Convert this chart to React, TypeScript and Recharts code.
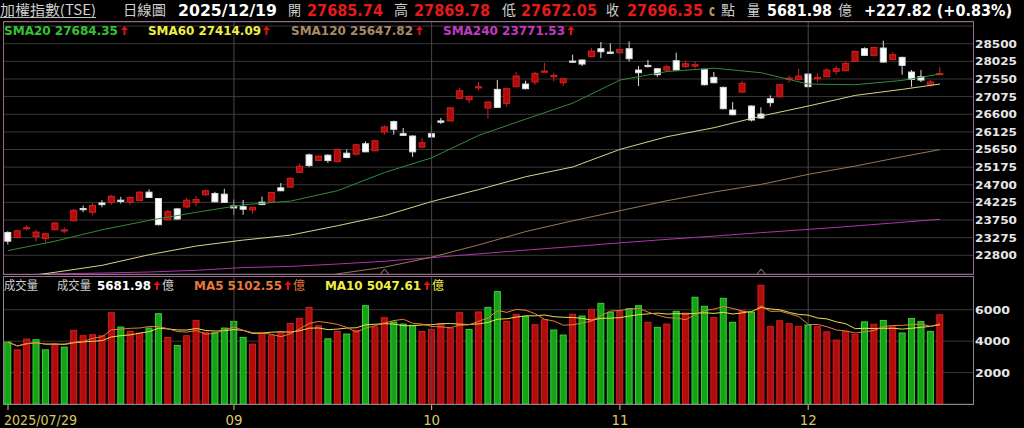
import React from 'react';
import { ComposedChart, Bar, Line, XAxis, YAxis, CartesianGrid, ReferenceLine } from 'recharts';

// ---------- categories (trading days) ----------
const julDays = [29, 30, 31];
const augDays = [1, 4, 5, 6, 7, 8, 11, 12, 13, 14, 15, 18, 19, 20, 21, 22, 25, 26, 27, 28, 29];
const sepDays = [1, 2, 3, 4, 5, 8, 9, 10, 11, 12, 15, 16, 17, 18, 19, 22, 23, 24, 25, 26, 30];
const octDays = [1, 2, 3, 7, 8, 9, 13, 14, 15, 16, 17, 20, 21, 22, 23, 27, 28, 29, 30, 31];
const novDays = [3, 4, 5, 6, 7, 10, 11, 12, 13, 14, 17, 18, 19, 20, 21, 24, 25, 26, 27, 28];
const decDays = [1, 2, 3, 4, 5, 8, 9, 10, 11, 12, 15, 16, 17, 18, 19];
const monthTable: [string, number[]][] = [
  ['07', julDays], ['08', augDays], ['09', sepDays], ['10', octDays], ['11', novDays], ['12', decDays],
];
const labelledMonths = ['09', '10', '11', '12'];

// ---------- OHLC ----------
const opens = [23415, 23280, 23530, 23307, 23250, 23490, 23475, 23730, 24060, 23960,
  24210, 24230, 24285, 24230, 24275, 24500, 24330, 23760, 24050, 24103,
  24230, 24430, 24465, 24447, 24130, 24110, 24022, 24230, 24230, 24619,
  24637, 25035, 25506, 25352, 25497, 25325, 25551, 25524, 25805, 25615,
  26121, 26402, 26076, 26013, 25714, 26076, 26420, 26420, 27026, 26990,
  27315, 26767, 27270, 26893, 27342, 27413, 27467, 27746, 27611, 27449,
  28033, 28060, 28150, 28365, 28275, 28257, 28365, 27791, 27916, 27826,
  27791, 28042, 27880, 27898, 27809, 27593, 27324, 26713, 27198, 26821,
  26605, 27018, 27072, 27539, 27539, 27683, 27557, 27611, 27755, 27773,
  28024, 28365, 28186, 28383, 28078, 28132, 27737, 27611, 27390, 27685.74];
const highs = [23450, 23490, 23615, 23490, 23400, 23690, 23550, 24050, 24140, 24210,
  24285, 24430, 24375, 24393, 24530, 24575, 24340, 24030, 24075, 24348,
  24393, 24565, 24510, 24590, 24302, 24290, 24112, 24384, 24510, 24746,
  24909, 25270, 25542, 25488, 25524, 25669, 25651, 25795, 25868, 25904,
  26302, 26429, 26230, 26031, 25958, 26320, 26501, 26791, 27316, 27099,
  27467, 26946, 27521, 27306, 27737, 27503, 27737, 27988, 27719, 27575,
  28204, 28078, 28392, 28545, 28509, 28365, 28563, 27898, 28060, 27844,
  27934, 28258, 28042, 28024, 27826, 27737, 27342, 26928, 27503, 26839,
  26785, 27108, 27413, 27647, 27826, 27701, 27701, 27844, 27898, 28024,
  28311, 28401, 28419, 28581, 28275, 28150, 27791, 27791, 27520, 27869.78];
const lows = [23090, 23260, 23470, 23170, 23145, 23470, 23400, 23715, 23960, 23877,
  24095, 24165, 24195, 24157, 24265, 24340, 23605, 23740, 23760, 24076,
  24121, 24411, 24230, 24220, 23895, 23890, 23913, 24148, 24221, 24529,
  24628, 25017, 25180, 25343, 25289, 25307, 25416, 25488, 25578, 25606,
  26049, 26049, 26013, 25452, 25696, 25977, 26338, 26411, 27008, 26900,
  27252, 26480, 26767, 26803, 27324, 27270, 27395, 27737, 27485, 27360,
  27988, 27898, 28141, 28114, 28221, 28239, 28024, 27360, 27862, 27611,
  27737, 27773, 27844, 27826, 27377, 27431, 26731, 26569, 27162, 26408,
  26480, 26803, 27054, 27449, 27503, 27324, 27467, 27593, 27665, 27755,
  28006, 28168, 28168, 27988, 28060, 27665, 27342, 27467, 27350, 27672.05];
const closes = [23180, 23460, 23545, 23425, 23380, 23670, 23485, 24010, 24030, 24140,
  24165, 24390, 24250, 24357, 24500, 24357, 23625, 23977, 23777, 24285,
  24302, 24538, 24240, 24225, 24075, 24040, 24094, 24167, 24492, 24538,
  24872, 25198, 25216, 25470, 25352, 25651, 25434, 25777, 25587, 25886,
  26257, 26194, 26031, 25587, 25832, 25986, 26384, 26773, 27234, 27081,
  27342, 26929, 26785, 27288, 27629, 27288, 27701, 27764, 27647, 27557,
  28006, 27952, 28302, 28284, 28239, 28347, 28096, 27719, 27889, 27665,
  27880, 27791, 27961, 27934, 27395, 27449, 26749, 26587, 27432, 26444,
  26498, 26911, 27395, 27575, 27629, 27342, 27593, 27791, 27826, 27970,
  28293, 28186, 28401, 28006, 28204, 27916, 27539, 27521, 27468.53, 27696.35];

// ---------- volume (億) ----------
const volumes = [3940, 3450, 4130, 4090, 3450, 3830, 3620, 4690, 4350, 4410,
  4350, 5815, 4900, 4620, 4515, 4835, 5750, 4240, 3730, 4350,
  5325, 4560, 4540, 4835, 5260, 4240, 3810, 4490, 4350, 4560,
  5130, 5450, 6155, 4985, 4150, 4620, 4450, 4690, 6260, 4900,
  5495, 5220, 5090, 5005, 4620, 4750, 5090, 4815, 5815, 4750,
  5860, 6155, 7155, 5260, 5710, 5560, 5050, 5370, 4710, 4390,
  5710, 5600, 6030, 6410, 5840, 5880, 6070, 6260, 5200, 4880,
  5090, 5900, 5790, 6795, 6220, 5495, 6730, 5200, 5920, 5840,
  7560, 4940, 5300, 5110, 4940, 5030, 4920, 4600, 4070, 4620,
  4420, 5230, 5080, 5320, 4914, 4520, 5440, 5250, 4620, 5681.98];

const smaSampleIdx = [0, 5, 10, 15, 20, 25, 30, 35, 40, 45, 50, 55, 60, 65, 70, 75, 80, 85, 90, 95, 99];
const sma20 = [22927, 23180, 23488, 23741, 23958, 24160, 24260, 24540, 25030, 25425, 26030,
  26470, 26900, 27521, 27750, 27840, 27719, 27413, 27395, 27512, 27684.35];
const sma60 = [22170, 22342, 22530, 22816, 23050, 23210, 23343, 23596, 23868, 24248, 24570,
  24917, 25180, 25653, 25995, 26237, 26551, 26821, 27108, 27270, 27414.09];
const sma120 = [null, null, null, null, null, null, 22050, 22300, 22480, 22750, 23080,
  23440, 23730, 24000, 24270, 24504, 24710, 24980, 25204, 25456, 25647.82];
const sma240 = [22265, 22300, 22322, 22350, 22395, 22470, 22500, 22565, 22640, 22737, 22840,
  22940, 23035, 23135, 23229, 23318, 23410, 23498, 23590, 23690, 23771.53];
const markerIdx = [40, 80];
const markerLevel = 22350;

// ---------- axis ticks ----------
const priceTicks = [22800, 23275, 23750, 24225, 24700, 25175, 25650, 26125, 26600, 27075, 27550, 28025, 28500, 28975];
const priceLabelMax = 28500;
const priceDomain = [22296, 29085];
const volTicks = [2000, 4000, 6000];
const volDomain = [0, 8150];

// ---------- header / legend text ----------
const titleText = '加權指數(TSE)';
const periodText = '日線圖';
const dateText = '2025/12/19';
const openText = '27685.74';
const highText = '27869.78';
const lowText = '27672.05';
const closeText = '27696.35';
const volText = '5681.98';
const changeText = '+227.82 (+0.83%)';
const smaLegend = [
  { name: 'SMA20', value: '27684.35' },
  { name: 'SMA60', value: '27414.09' },
  { name: 'SMA120', value: '25647.82' },
  { name: 'SMA240', value: '23771.53' },
];
const ma5Text = '5102.55';
const ma10Text = '5047.61';

// ---------- build table ----------
const categories: string[] = [];
monthTable.forEach(([m, days]) => days.forEach((d) => categories.push(`2025/${m}/${String(d).padStart(2, '0')}`)));
const monthStarts = labelledMonths.map((m) => categories.find((c) => c.slice(5, 7) === m) as string);
const xTicks = [categories[0], ...monthStarts];

const sampleAt = (arr: (number | null)[], i: number) => {
  const k = smaSampleIdx.indexOf(i);
  return k >= 0 ? arr[k] : null;
};
const avgWindow = (i: number, n: number) => {
  const s = volumes.slice(Math.max(0, i - n + 1), i + 1);
  return s.reduce((a, b) => a + b, 0) / s.length;
};

const rows = categories.map((date, i) => ({
  date,
  open: opens[i],
  high: highs[i],
  low: lows[i],
  close: closes[i],
  range: [lows[i], highs[i]],
  vol: volumes[i],
  volUp: i > 0 && closes[i] >= closes[i - 1],
  sma20: sampleAt(sma20, i),
  sma60: sampleAt(sma60, i),
  sma120: sampleAt(sma120, i),
  sma240: sampleAt(sma240, i),
  mark: markerIdx.includes(i) ? markerLevel : null,
  ma5: avgWindow(i, 5),
  ma10: avgWindow(i, 10),
}));

// ---------- styles ----------
const NUM_FONT = "'DejaVu Sans', Verdana, sans-serif";
const CJK_FONT = "'Noto Sans CJK TC', 'Noto Sans CJK SC', sans-serif";
const RED = '#e31b1b';
const GRAY = '#cfcfcf';

const Candle = (props: any) => {
  const { x, y, width, height, payload } = props;
  if (x == null || y == null) return <g />;
  const { open, close, high, low } = payload;
  const k = height / (high - low);
  const py = (v: number) => y + (high - v) * k;
  const up = close >= open;
  const cx = x + width / 2;
  const top = py(Math.max(open, close));
  const bot = py(Math.min(open, close));
  const bodyH = Math.max(bot - top, 1.2);
  const fill = up ? '#b20b0b' : '#ffffff';
  const edge = up ? '#d42020' : '#dcdcdc';
  return (
    <g>
      <line x1={cx} x2={cx} y1={y} y2={y + height} stroke={edge} strokeWidth={1} />
      <rect x={x + 0.5} y={top} width={width - 1} height={bodyH} fill={fill} stroke={edge} strokeWidth={1} />
    </g>
  );
};

const VolBar = (props: any) => {
  const { x, y, width, height, payload } = props;
  if (x == null || y == null) return <g />;
  const up = payload.volUp;
  return (
    <rect x={x + 0.5} y={y} width={width - 1} height={height}
      fill={up ? '#b00c0c' : '#14a314'} stroke={up ? '#d41e1e' : '#3dcf3d'} strokeWidth={1} />
  );
};

const Marker = (props: any) => {
  const { cx, cy, value } = props;
  if (value == null || cx == null || cy == null) return <g key={`m${props.index}`} />;
  return (
    <path key={`m${props.index}`} d={`M${cx - 4},${cy + 2} L${cx},${cy - 3} L${cx + 4},${cy + 2}`}
      fill="none" stroke="#a08a6a" strokeWidth={1} />
  );
};

const PriceTick = (props: any) => {
  const { x, y, payload } = props;
  if (payload.value > priceLabelMax) return <g />;
  return (
    <text x={x} y={y} dy="0.36em" textAnchor="start" fill="#e6e6e6" fontFamily={NUM_FONT}
      fontWeight="bold" fontSize={11} textLength={42} lengthAdjust="spacingAndGlyphs">
      {payload.value}
    </text>
  );
};

const VolTick = (props: any) => {
  const { x, y, payload } = props;
  return (
    <text x={x} y={y} dy="0.36em" textAnchor="start" fill="#e6e6e6" fontFamily={NUM_FONT}
      fontWeight="bold" fontSize={11} textLength={35} lengthAdjust="spacingAndGlyphs">
      {payload.value}
    </text>
  );
};

const DateTick = (props: any) => {
  const { x, y, payload } = props;
  const first = payload.value === categories[0];
  const label = first ? payload.value : payload.value.slice(5, 7);
  return (
    <text x={first ? x - 4 : x} y={y} dy={15} textAnchor={first ? 'start' : 'middle'} fill="#d9c86a"
      fontFamily={NUM_FONT} fontSize={14} textLength={first ? 73 : 17} lengthAdjust="spacingAndGlyphs">
      {label}
    </text>
  );
};

const UpArrow = ({ cx, y }: { cx: number; y: number }) => (
  <g fill="#e51010">
    <path d={`M${cx - 3.5},${y - 5} L${cx},${y - 9} L${cx + 3.5},${y - 5} Z`} />
    <rect x={cx - 1} y={y - 5.5} width={2} height={5.5} />
  </g>
);

const T = (p: any) => {
  const { x, y, len, color, bold, cjk, size, children } = p;
  return (
    <text x={x} y={y} fill={color} fontFamily={cjk ? CJK_FONT : NUM_FONT} fontWeight={bold ? 'bold' : 'normal'}
      fontSize={size} textLength={len} lengthAdjust="spacingAndGlyphs">
      {children}
    </text>
  );
};

const smaColors = ['#34c234', '#eeee44', '#a88a66', '#c23ac2'];
const smaLegendPos = [
  { x: 4, len: 114, arrow: 124.5 },
  { x: 148, len: 113, arrow: 266.5 },
  { x: 291, len: 122, arrow: 419.5 },
  { x: 443, len: 122, arrow: 571 },
];

export default function App() {
  const plotMargin = 3.3;
  const rightPad = 28.3;
  return (
    <div style={{ position: 'fixed', left: 0, top: 0, width: 1024, height: 428, background: '#000', overflow: 'hidden' }}>
      {/* price panel */}
      <div style={{ position: 'absolute', left: 0, top: 0 }}>
        <ComposedChart width={1024} height={276} data={rows} margin={{ top: 22, right: 0, bottom: 2, left: plotMargin }}>
          <CartesianGrid vertical={false} stroke="#383838" strokeWidth={1} />
          <XAxis dataKey="date" hide padding={{ left: 0, right: rightPad }} />
          <YAxis orientation="right" width={51} domain={priceDomain} allowDataOverflow ticks={priceTicks}
            interval={0} tick={<PriceTick />} tickLine={false} axisLine={false} tickSize={0} tickMargin={2} />
          {monthStarts.map((c) => (
            <ReferenceLine key={c} x={c} stroke="#4a4a4a" strokeWidth={1} />
          ))}
          <Line dataKey="sma240" stroke="#b034b0" strokeWidth={1} dot={false} connectNulls isAnimationActive={false} />
          <Line dataKey="sma120" stroke="#98785a" strokeWidth={1} dot={false} connectNulls isAnimationActive={false} />
          <Line dataKey="sma60" stroke="#d6d48a" strokeWidth={1} dot={false} connectNulls isAnimationActive={false} />
          <Line dataKey="sma20" stroke="#2e8c3c" strokeWidth={1} dot={false} connectNulls isAnimationActive={false} />
          <Line dataKey="mark" stroke="none" dot={Marker} activeDot={false} isAnimationActive={false} />
          <Bar dataKey="range" barSize={7} shape={Candle} isAnimationActive={false} />
        </ComposedChart>
      </div>

      {/* volume panel */}
      <div style={{ position: 'absolute', left: 0, top: 276 }}>
        <ComposedChart width={1024} height={152} data={rows} margin={{ top: 0, right: 0, bottom: 0, left: plotMargin }}>
          <CartesianGrid vertical={false} stroke="#383838" strokeWidth={1} />
          <XAxis dataKey="date" ticks={xTicks} interval={0} tick={<DateTick />} tickLine={{ stroke: '#d9c86a' }}
            tickSize={6} tickMargin={0} axisLine={false} height={24} padding={{ left: 0, right: rightPad }} />
          <YAxis orientation="right" width={51} domain={volDomain} allowDataOverflow ticks={volTicks}
            interval={0} tick={<VolTick />} tickLine={false} axisLine={false} tickSize={0} tickMargin={2} />
          {monthStarts.map((c) => (
            <ReferenceLine key={c} x={c} stroke="#4a4a4a" strokeWidth={1} />
          ))}
          <Bar dataKey="vol" barSize={7} shape={VolBar} isAnimationActive={false} />
          <Line dataKey="ma10" stroke="#e8e050" strokeWidth={1} dot={false} isAnimationActive={false} />
          <Line dataKey="ma5" stroke="#e0803c" strokeWidth={1} dot={false} isAnimationActive={false} />
        </ComposedChart>
      </div>

      {/* panel borders */}
      <div style={{ position: 'absolute', left: 3, top: 21, width: 971, height: 254, boxSizing: 'border-box',
        border: '1px solid #9a6a8a', pointerEvents: 'none' }} />
      <div style={{ position: 'absolute', left: 3, top: 276, width: 971, height: 129, boxSizing: 'border-box',
        borderTop: '1px solid #9a6a8a', borderLeft: '1px solid #8a8a8a', borderRight: '1px solid #8a8a8a',
        borderBottom: '1px solid #8a8a8a', pointerEvents: 'none' }} />

      {/* texts */}
      <svg width={1024} height={428} style={{ position: 'absolute', left: 0, top: 0, pointerEvents: 'none' }}>
        <T x={0} y={15} len={96} color={GRAY} cjk size={14}>{titleText}</T>
        <line x1={0} x2={96} y1={17.5} y2={17.5} stroke="#bdbdbd" strokeWidth={1} />
        <T x={123} y={15} len={43} color={GRAY} cjk size={14}>{periodText}</T>
        <T x={178} y={15.5} len={99} color="#ffffff" bold size={15}>{dateText}</T>
        <T x={288} y={15} len={13} color={GRAY} cjk size={14}>開</T>
        <T x={307} y={15.5} len={76} color={RED} bold size={15}>{openText}</T>
        <T x={394} y={15} len={14} color={GRAY} cjk size={14}>高</T>
        <T x={414} y={15.5} len={76} color={RED} bold size={15}>{highText}</T>
        <T x={502} y={15} len={14} color={GRAY} cjk size={14}>低</T>
        <T x={521} y={15.5} len={76} color={RED} bold size={15}>{lowText}</T>
        <T x={606} y={15} len={13} color={GRAY} cjk size={14}>收</T>
        <T x={627} y={15.5} len={76} color={RED} bold size={15}>{closeText}</T>
        <T x={709} y={15.5} len={6} color="#b89a6a" bold size={15}>c</T>
        <T x={721} y={15} len={14} color={GRAY} cjk size={14}>點</T>
        <T x={747} y={15} len={13} color={GRAY} cjk size={14}>量</T>
        <T x={767} y={15.5} len={65} color="#ffffff" bold size={15}>{volText}</T>
        <T x={838} y={15} len={14} color={GRAY} cjk size={14}>億</T>
        <T x={864} y={15.5} len={148} color="#ffffff" bold size={15}>{changeText}</T>

        {smaLegend.map((s, i) => (
          <g key={s.name}>
            <T x={smaLegendPos[i].x} y={35} len={smaLegendPos[i].len} color={smaColors[i]} bold size={12}>
              {`${s.name} ${s.value}`}
            </T>
            <UpArrow cx={smaLegendPos[i].arrow} y={35} />
          </g>
        ))}

        <T x={4} y={290} len={34} color={GRAY} cjk size={12}>成交量</T>
        <T x={57} y={290} len={34} color={GRAY} cjk size={12}>成交量</T>
        <T x={97} y={290} len={54} color="#ffffff" bold size={12}>{volText}</T>
        <UpArrow cx={157} y={290} />
        <T x={162} y={290} len={12} color={GRAY} cjk size={12}>億</T>
        <T x={194} y={290} len={88} color="#e8773a" bold size={12}>{`MA5 ${ma5Text}`}</T>
        <UpArrow cx={288} y={290} />
        <T x={293} y={290} len={12} color="#e8773a" cjk size={12}>億</T>
        <T x={325} y={290} len={96} color="#eeee44" bold size={12}>{`MA10 ${ma10Text}`}</T>
        <UpArrow cx={427} y={290} />
        <T x={432} y={290} len={12} color="#eeee44" cjk size={12}>億</T>
      </svg>
    </div>
  );
}
